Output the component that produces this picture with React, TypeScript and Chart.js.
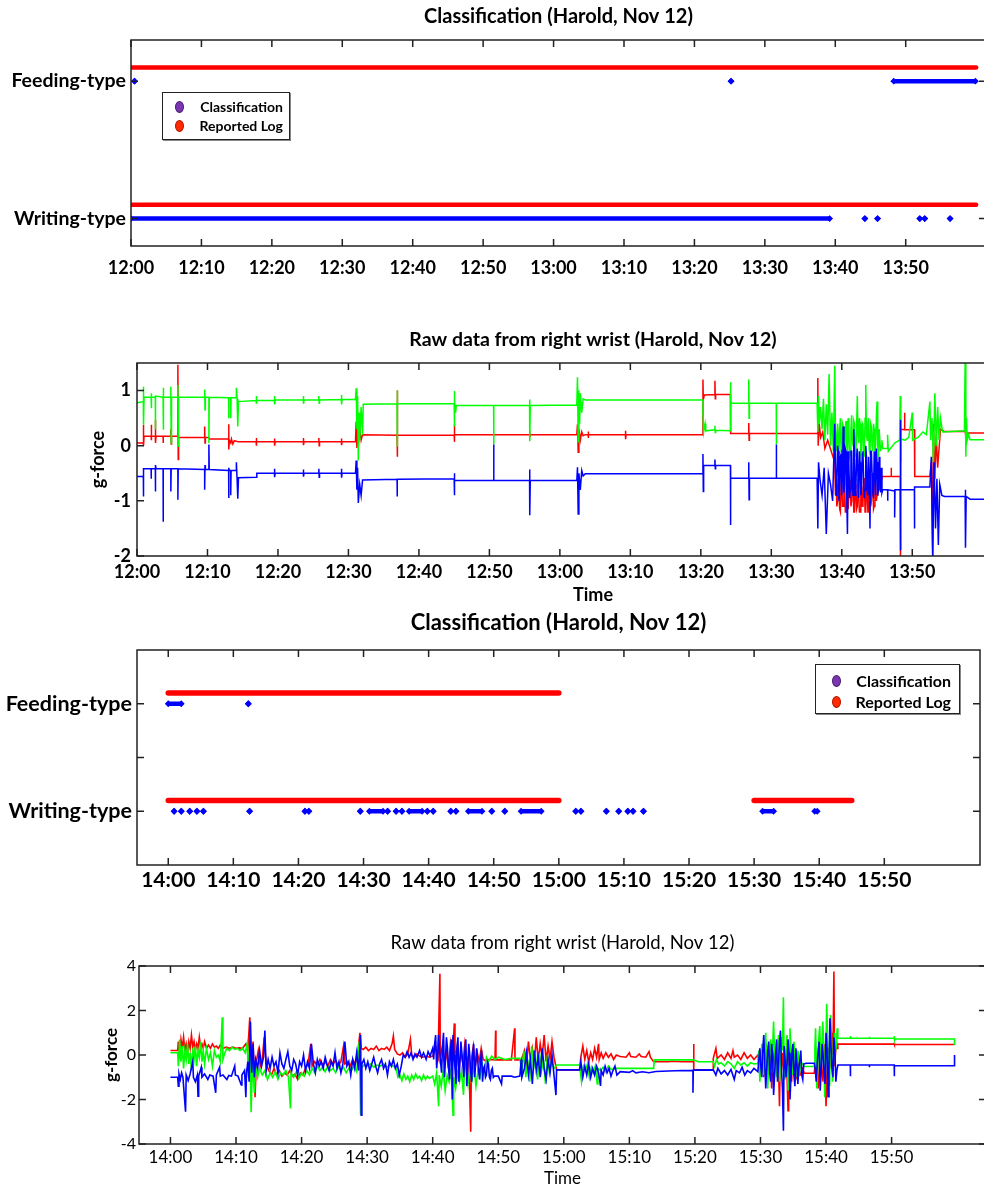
import React, { useEffect, useRef } from 'react';
import { Chart, registerables } from 'chart.js';

Chart.register(...registerables);

const FONT = "Lato, 'Open Sans', 'DejaVu Sans', sans-serif";

// ---------- ticks ----------
const tenMinuteTicks = [0, 10, 20, 30, 40, 50, 60, 70, 80, 90, 100, 110];
const classTicksTop = [1, 2];
const classTicksBottom = [1, 1.5, 2];
const classLabels: Record<string, string> = { '1': 'Writing-type', '2': 'Feeding-type' };
const wristTicksTop = [-2, -1, 0, 1];
const wristTicksBottom = [-4, -2, 0, 2, 4];

// ---------- panel 1: classification 12:00-14:00 (minutes after 12:00) ----------
const logFeedingA = [[0, 120]];
const logWritingA = [[0, 120]];
const clsFeedingA = [[0.5, 0.5], [85.2, 85.2], [108.3, 119.9]];
const clsWritingA = [[0, 99.2], [104.2, 104.2], [106, 106], [112, 112], [112.7, 112.7], [116.3, 116.3]];

// ---------- panel 3: classification 14:00-16:00 (minutes after 14:00) ----------
const logFeedingB = [[0, 60]];
const logWritingB = [[0, 60], [90, 105]];
const clsFeedingB = [[0, 2], [12.3, 12.3]];
const clsWritingB = [
  [0.9, 0.9], [2, 2], [3.3, 3.3], [4.4, 4.4], [5.4, 5.4], [12.5, 12.5], [21, 21], [21.6, 21.6],
  [29.5, 29.5], [30.9, 33], [33.7, 33.7], [35, 35], [35.9, 35.9], [37, 39], [39.8, 39.8], [40.7, 40.7],
  [43.4, 43.4], [44.2, 44.2], [46.1, 48.2], [49.7, 49.7], [51.7, 51.7], [54.2, 57.3], [62.6, 62.6],
  [63.4, 63.4], [67.3, 67.3], [69.2, 69.2], [70.6, 70.6], [71.4, 71.4], [73, 73], [91.3, 93], [99.3, 99.7],
];

// ---------- panel 2: raw wrist data 12:00-14:00 ----------
const wristBlueA = [
  [0,-0.56],[0.9,-0.56],[0.9,-0.92],[0.95,-0.42],[2,-0.42],[2,-0.6],[2.05,-0.42],[2.6,-0.42],[2.6,-0.83],[2.65,-0.35],[2.7,-0.42],
  [3.7,-0.42],[3.7,-1.38],[3.75,-0.42],[4.8,-0.42],[4.8,-0.83],[4.85,-0.42],[5.8,-0.42],[5.8,-0.98],[5.85,-0.42],[9.6,-0.43],
  [9.6,-0.8],[9.65,-0.35],[9.7,-0.43],[10.2,-0.43],[10.2,0.02],[10.25,-0.43],[13,-0.45],[13,-0.95],[13.05,-0.4],[13.1,-0.45],
  [13.3,-0.45],[13.3,-0.9],[13.35,-0.45],[14.1,-0.45],[14.1,-0.3],[14.2,-0.6],[14.3,-0.96],[14.4,-0.58],[16.9,-0.57],[17,-0.5],
  [19.5,-0.5],[19.5,-0.42],[19.55,-0.57],[19.6,-0.5],[23.6,-0.5],[23.6,-0.43],[23.65,-0.56],[23.7,-0.5],[25.8,-0.5],[25.8,-0.42],
  [25.85,-0.57],[25.9,-0.5],[29,-0.5],[29,-0.42],[29.05,-0.58],[29.1,-0.5],[31,-0.5],[31.1,-0.27],[31.2,-0.8],[31.3,-0.4],
  [31.4,-1.04],[31.6,-0.7],[31.8,-0.9],[32,-0.62],[36.9,-0.61],[36.9,-0.92],[36.95,-0.61],[45,-0.6],[45,-0.9],[45.05,-0.5],
  [45.1,-0.63],[50.6,-0.63],[50.6,0.02],[50.65,-0.63],[55.7,-0.63],[55.7,-0.43],[55.75,-1.26],[55.8,-0.63],[62.4,-0.63],
  [62.5,-0.39],[62.6,-1.24],[62.7,-0.5],[62.9,-0.8],[63.1,-0.45],[63.3,-0.55],[63.6,-0.51],[80.3,-0.51],[80.3,-0.15],
  [80.35,-0.83],[80.4,-0.36],[82,-0.36],[82,-0.25],[82.05,-0.42],[82.1,-0.36],[84.2,-0.36],[84.2,-1.44],[84.25,-0.59],
  [86.8,-0.59],[86.8,-0.3],[86.85,-0.98],[86.9,-0.59],[90.7,-0.59],[90.7,0.02],[90.75,-0.59],[96.5,-0.59],[96.6,-1.5],
  [96.7,-0.3],[96.9,-0.6],[97.2,-0.9],[97.5,-0.4],[97.8,-1.6],[98.1,-0.5],[98.4,-0.7],[98.7,-1.0],
  [99,0.4],[99.1,-0.4],[99.2,-0.9],[99.3,-0.6],[99.4,0.0],[99.5,-0.1],[99.6,-1.0],[99.7,-0.8],[99.8,-0.2],[99.9,-0.15],
  [100,-0.9],[100.1,-0.5],[100.2,0.35],[100.3,-0.85],[100.4,-0.7],[100.5,-0.05],[100.6,-0.1],[100.7,-0.9],[100.8,-1.6],[100.9,-0.1],
  [101,-0.3],[101.1,-0.95],[101.2,-0.8],[101.3,-0.1],[101.4,-0.1],[101.5,-0.7],[101.6,-0.9],[101.7,0.3],[101.8,-0.2],[101.9,-0.9],
  [102,-0.8],[102.1,-0.2],[102.2,-0.05],[102.3,-0.6],[102.4,-0.95],[102.5,-0.1],[102.6,-0.3],[102.7,-0.9],[102.8,-0.8],[102.9,-0.15],
  [103,-0.1],[103.1,-0.6],[103.2,-0.95],[103.3,-0.8],[103.4,0.0],[103.5,-0.2],[103.6,-0.8],[103.7,-0.9],[103.8,-0.2],[103.9,-0.6],
  [104,-1.5],[104.1,-0.1],[104.2,-0.1],[104.3,-0.5],[104.4,-0.85],[104.5,-0.95],[104.6,-0.1],[104.7,-0.3],[104.8,-0.9],[104.9,-0.05],
  [105,-0.3],[105.1,-0.9],[105.2,-0.8],[105.3,-0.2],[105.4,-0.5],[105.5,-0.85],[105.6,-0.4],[105.7,-0.85],[105.8,-0.8],
  [106.5,-0.8],[106.5,-1.0],[106.55,-0.8],[107.5,-0.82],[107.5,-1.3],[107.55,-0.8],[108.3,-0.8],
  [108.3,0.47],[108.35,-1.9],[108.4,-0.8],[110.3,-0.8],[110.3,-1.5],[110.35,-0.75],[112.5,-0.75],[112.7,-0.2],[112.9,-2.0],
  [113.1,-0.3],[113.3,-1.5],[113.5,-0.6],[113.7,-1.8],[113.9,-0.7],[114.2,-0.9],[114.6,-0.92],[117.5,-0.92],[117.5,-0.8],
  [117.6,-1.85],[117.65,-0.92],[118.2,-0.97],[129,-0.97],
];
const wristGreenA = [
  [0,0.78],[0.9,0.8],[0.9,1.07],[0.95,0.38],[1,0.88],[2,0.88],[2,0.68],[2.05,0.95],[2.1,0.88],[2.6,0.88],[2.6,0.3],[2.65,0.9],
  [3.7,0.88],[3.7,1.05],[3.75,0.29],[3.8,0.88],[4.8,0.88],[4.8,1.07],[4.85,0.05],[4.9,0.88],[5.8,0.88],[5.8,1.1],[5.85,-0.01],
  [5.9,0.88],[9.6,0.88],[9.6,1.02],[9.65,0.65],[9.7,0.88],[10.2,0.88],[10.2,0.05],[10.25,0.88],[13,0.87],[13,0.5],[13.05,0.87],
  [13.3,0.87],[13.3,0.5],[13.35,0.87],[14.1,0.87],[14.1,1.05],[14.2,0.85],[14.3,0.35],[14.4,0.8],[16.9,0.82],[16.9,0.9],
  [16.95,0.76],[17,0.82],[19.5,0.82],[19.5,0.9],[19.55,0.75],[19.6,0.83],[23.6,0.83],[23.6,0.9],[23.65,0.76],[23.7,0.83],
  [25.8,0.83],[25.8,0.9],[25.85,0.77],[25.9,0.83],[29,0.84],[29,0.92],[29.05,0.75],[29.1,0.84],[31,0.84],[31.1,1.04],[31.2,0.3],
  [31.3,0.9],[31.4,-0.27],[31.5,0.6],[31.6,0.1],[31.8,0.7],[32,0.2],[32.1,0.75],[36.9,0.76],[36.9,1.0],[36.95,-0.02],[37,0.76],
  [45,0.76],[45,0.99],[45.05,0.35],[45.1,0.8],[45.2,0.6],[45.3,0.73],[50.6,0.73],[50.6,0.02],[50.65,0.73],[55.7,0.73],
  [55.7,0.84],[55.75,0.08],[55.8,0.73],[62.4,0.74],[62.5,1.24],[62.6,0.07],[62.7,1.0],[62.8,0.4],[62.9,0.95],[63.1,0.6],
  [63.3,0.85],[63.6,0.83],[80.3,0.83],[80.3,0.6],[80.4,0.25],[80.6,0.4],[80.7,0.27],[82,0.29],[82,0.36],[82.05,0.24],[82.1,0.28],
  [84.2,0.27],[84.2,1.15],[84.25,0.77],[86.8,0.77],[86.8,1.2],[86.85,0.5],[86.9,0.77],[90.7,0.77],[90.7,0.02],[90.75,0.77],
  [96.5,0.77],[96.6,0.25],[96.7,0.9],[96.8,0.4],[97,0.7],[97.2,0.3],[97.4,0.85],[97.6,0.1],[97.8,0.75],[98,0.2],[98.2,1.3],
  [98.4,0.0],[98.6,0.6],[98.8,-0.1],
  [99,1.45],[99.1,0.3],[99.2,0.1],[99.3,-0.1],[99.4,0.4],[99.5,0.2],[99.6,-0.15],[99.7,0.3],[99.8,0.5],[99.9,-0.1],
  [100,0.0],[100.1,0.4],[100.2,0.35],[100.3,-0.2],[100.4,-0.2],[100.5,0.3],[100.6,0.45],[100.7,0.0],[100.8,-0.1],[100.9,0.5],
  [101,0.3],[101.1,-0.2],[101.2,-0.15],[101.3,0.3],[101.4,0.55],[101.5,0.1],[101.6,0.0],[101.7,0.45],[101.8,0.4],[101.9,-0.1],
  [102,-0.2],[102.1,0.3],[102.2,0.9],[102.3,0.2],[102.4,0.05],[102.5,0.5],[102.6,0.4],[102.7,-0.15],[102.8,-0.1],[102.9,0.4],
  [103,0.35],[103.1,-0.1],[103.2,-0.2],[103.3,0.5],[103.4,1.1],[103.5,0.2],[103.6,0.1],[103.7,0.4],[103.8,0.5],[103.9,-0.1],
  [104,-0.15],[104.1,0.4],[104.2,0.35],[104.3,0.0],[104.4,-0.1],[104.5,0.4],[104.6,0.3],[104.7,-0.1],[104.8,0.0],[104.9,0.5],
  [105,0.8],[105.1,0.0],[105.2,-0.2],[105.3,0.3],[105.4,0.3],[105.5,-0.1],[105.6,0.0],[105.7,0.1],[105.8,-0.05],
  [106.5,-0.05],[106.5,0.2],[106.6,-0.1],
  [107.5,0.05],[108.2,0.1],[108.3,0.9],[108.35,-0.3],[108.4,0.12],[109,0.1],[109.5,0.15],[110,0.6],[110.05,0.1],[110.8,0.15],
  [111.5,0.25],[112,0.2],[112.5,0.8],[112.6,0.1],[112.8,0.5],[113,-0.3],[113.2,0.95],[113.4,0.0],[113.6,0.7],[113.8,0.1],
  [114,0.5],[114.3,0.25],[117.4,0.27],[117.5,1.5],[117.6,-0.2],[117.7,0.5],[117.8,0.1],[118,0.2],[118.2,0.11],[129,0.11],
];
const wristRedA = [
  [0,0.05],[0.9,0.05],[0.9,0.38],[0.95,0.0],[1,0.17],[2,0.17],[2,0.38],[2.05,0.1],[2.1,0.17],[2.6,0.17],[2.6,0.47],[2.65,0.05],
  [2.7,0.17],[3.7,0.17],[3.7,0.05],[3.75,0.17],[4.8,0.17],[4.8,0.3],[4.85,0.03],[4.9,0.17],[5.8,0.17],[5.8,1.47],[5.85,-0.25],
  [5.9,0.15],[9.6,0.15],[9.6,0.35],[9.65,0.05],[9.7,0.15],[10.2,0.15],[10.3,0.12],[13,0.12],[13,0.39],[13.05,-0.07],[13.1,0.1],
  [13.3,0.05],[13.4,0.12],[13.6,0.03],[13.8,0.09],[14.4,0.07],[16.9,0.07],[16.9,0.14],[16.95,0.0],[17,0.07],[19.5,0.07],
  [19.5,0.13],[19.55,0.0],[19.6,0.07],[23.6,0.07],[23.6,0.14],[23.65,0.01],[23.7,0.07],[25.8,0.07],[25.8,0.14],[25.85,0.0],
  [25.9,0.07],[29,0.07],[29,0.13],[29.05,0.01],[29.1,0.07],[31,0.07],[31.1,0.44],[31.2,-0.04],[31.3,0.35],[31.4,0.0],[31.6,0.3],
  [31.8,0.1],[32,0.2],[36.9,0.19],[36.9,1.0],[36.95,-0.2],[37,0.19],[45,0.19],[45,0.39],[45.05,0.07],[45.1,0.2],[55.7,0.2],
  [55.7,0.27],[55.75,0.15],[55.8,0.2],[62.4,0.2],[62.5,0.39],[62.6,-0.12],[62.7,0.3],[62.9,0.1],[63.1,0.25],[63.3,0.18],
  [63.6,0.2],[64,0.2],[64,0.26],[64.05,0.14],[64.1,0.2],[69.3,0.2],[69.3,0.27],[69.35,0.12],[69.4,0.2],[80.3,0.2],[80.3,1.2],
  [80.35,0.84],[80.5,0.92],[82,0.93],[82,1.18],[82.05,0.85],[82.1,0.93],[84.2,0.93],[84.2,0.35],[84.25,0.22],[86.8,0.22],
  [86.8,0.41],[86.85,0.1],[86.9,0.22],[96.5,0.22],[96.6,1.23],[96.65,0.0],[96.8,0.4],[97,0.15],[97.3,0.25],[97.6,-0.05],
  [98,0.1],[98.5,-0.1],
  [99,-0.3],[99.1,-0.9],[99.2,-0.7],[99.3,-1.1],[99.4,-1.0],[99.5,-0.6],[99.6,-0.6],[99.7,-1.15],[99.8,-1.2],[99.9,-0.65],
  [100,-0.7],[100.1,-1.1],[100.2,-1.1],[100.3,-0.6],[100.4,-0.6],[100.5,-1.2],[100.6,-1.2],[100.7,-0.7],[100.8,-0.8],[100.9,-1.15],
  [101,-1.15],[101.1,-0.6],[101.2,-0.65],[101.3,-1.1],[101.4,-1.0],[101.5,-0.6],[101.6,-0.7],[101.7,-1.2],[101.8,-1.2],[101.9,-0.7],
  [102,-0.8],[102.1,-1.15],[102.2,-1.1],[102.3,-0.6],[102.4,-0.6],[102.5,-1.2],[102.6,-1.2],[102.7,-0.7],[102.8,-0.75],[102.9,-1.1],
  [103,-1.05],[103.1,-0.6],[103.2,-0.6],[103.3,-1.2],[103.4,-1.15],[103.5,-0.7],[103.6,-0.8],[103.7,-1.2],[103.8,-1.2],[103.9,-0.65],
  [104,-0.7],[104.1,-1.1],[104.2,-1.0],[104.3,-0.6],[104.4,-0.65],[104.5,-1.15],[104.6,-1.1],[104.7,-0.65],[104.8,-0.7],[104.9,-1.0],
  [105,-0.9],[105.1,-0.6],[105.2,-0.6],[105.3,-0.8],[105.4,-0.7],[105.5,-0.6],[105.6,-0.6],[105.7,-0.58],[105.8,-0.56],
  [107,-0.56],[107,-0.4],[107.05,-0.56],[108.3,-0.56],[108.3,-2.0],[108.35,0.3],[108.9,0.29],[108.9,0.6],[108.95,0.29],[110.3,0.29],
  [110.35,-0.56],[112.5,-0.56],[112.7,-0.3],[112.9,-2.0],[113,0.4],[113.2,-0.6],[113.4,0.2],[113.6,-0.4],[114,0.3],[114.5,0.26],
  [117.4,0.26],[117.5,0.3],[117.6,0.15],[117.8,0.23],[129,0.23],
];

// ---------- panel 4: raw wrist data 14:00-16:00 ----------
const wristBlueB = [
  [0,-1],[1.1,-1],[1.2,-1.4],[1.3,-0.85],[1.5,-1.1],[1.7,-0.8],[1.9,-1.0],[2.3,-2.55],[2.4,-0.9],[2.7,-1.15],[3,-0.85],[3.4,-0.3],
  [3.5,-1.0],[3.8,-1.2],[4.1,-0.9],[4.2,-1.85],[4.3,-0.95],[4.7,-0.55],[4.8,-1.0],[5.2,-0.85],[5.7,-1.1],[6,-0.9],[6.5,-0.95],
  [6.9,-1.7],[7,-0.9],[7.5,-0.55],[7.6,-0.95],[8,-0.9],[8.6,-1.1],[8.9,-0.92],[9.3,-0.95],[9.8,-0.5],[9.9,-0.9],[10.3,-0.95],
  [10.8,-1.35],[10.9,-0.9],[11.3,-0.7],[11.5,-1.9],[11.6,-0.8],[11.8,-0.3],[12,-1.2],[12.2,1.5],[12.4,-0.8],[12.6,0.5],[12.8,-1.0],
  [13,-0.2],[13.3,-0.6],[13.6,0.2],[13.9,-0.5],[14.2,-0.1],[14.4,1.1],[14.6,-0.7],[14.9,-0.2],[15.2,-0.6],[15.5,-0.1],[15.8,-0.5],
  [16.1,-0.3],[16.4,-0.8],[16.7,0.1],[17,-0.4],[17.3,-0.6],[17.6,-0.2],[17.9,0.15],[18.2,-0.5],[18.5,-0.7],[18.8,-0.2],[19.1,-0.4],
  [19.4,-0.9],[19.7,-0.3],[20,-0.5],[20.3,0.0],[20.6,-0.7],[20.9,-0.3],[21.2,-0.6],[21.5,0.5],[21.8,-0.4],[22.1,-0.8],[22.4,-0.2],
  [22.7,-0.5],[23,-0.3],[23.3,-0.6],[23.6,-0.1],[23.9,-0.45],[24.2,-0.7],[24.5,-0.3],[24.8,-0.5],[25.1,0.1],[25.4,-0.6],[25.7,-0.3],
  [26,-0.8],[26.3,-0.4],[26.6,0.6],[26.9,-0.5],[27.2,-0.3],[27.5,-0.9],[27.8,-0.2],[28.1,-0.6],[28.4,0.1],[28.7,-0.7],[29,0.9],
  [29.1,-2.7],[29.2,-0.4],[29.5,-0.2],[29.8,-0.6],[30.1,-0.3],[30.4,-0.7],[30.7,-0.4],[31,-0.1],[31.3,-0.5],[31.6,-0.8],[31.9,-0.4],
  [32.2,-0.2],[32.5,-0.6],[32.8,-0.4],[33.1,-0.9],[33.4,-0.3],[33.7,-0.5],[34,-0.2],[34.3,-0.6],[34.6,-0.4],[34.9,-0.9],[35.2,-0.5],
  [35.5,0.0],[35.8,-0.1],[36.1,0.15],[36.4,-0.1],[36.7,0.1],[37,-0.2],[37.3,0.05],[37.6,-0.1],[38,0.2],[38.3,-0.1],[38.6,0.1],
  [39,-0.2],[39.3,0.15],[39.6,-0.05],
  [40,0.3],[40.15,-0.2],[40.3,0.5],[40.45,0.9],[40.6,-0.6],[40.75,-0.1],[40.9,0.9],[41.05,0.2],[41.2,-0.3],[41.35,-0.8],[41.5,0.4],
  [41.65,1.0],[41.8,-1.0],[41.95,-0.2],[42.1,0.8],[42.25,0.3],[42.4,-0.5],[42.55,-1.1],[42.7,0.2],[42.85,0.7],[43,-2.0],[43.1,0.9],
  [43.25,0.0],[43.4,-0.6],[43.55,-1.3],[43.7,0.3],[43.85,0.8],[44,-1.2],[44.15,-0.3],[44.3,0.6],[44.45,0.1],[44.6,-0.4],[44.75,-1.0],
  [44.9,0.1],[45.05,0.7],[45.2,-1.4],[45.35,-0.5],[45.5,0.5],[45.65,0.0],[45.8,-0.8],[45.95,-1.2],[46.1,0.0],[46.25,0.5],[46.4,-1.0],
  [46.55,-0.4],[46.7,0.3],[46.85,-0.2],[47,-0.7],[47.15,-1.1],[47.3,-0.2],[47.45,0.2],[47.6,-1.2],[47.75,-0.6],[47.9,-0.5],
  [48.05,-1.0],[48.2,-0.9],[48.35,-0.3],[48.5,-0.4],[48.65,-1.0],[48.8,-1.1],[48.95,-0.7],[49.1,-0.6],[49.25,-1.0],[49.4,-0.95],
  [50,-0.95],[50.5,-1.3],[50.6,-0.95],[52,-0.95],[52.5,-1.0],[53.3,-0.95],[53.5,-0.2],
  [53.6,-1.0],[54,-0.6],[54.3,0.1],[54.6,-0.9],[54.9,-0.2],[55.2,-1.3],[55.5,0.2],[55.8,-0.7],[56.1,-0.1],[56.4,-1.0],[56.7,0.3],
  [57,-0.6],[57.3,-1.1],[57.6,-0.2],[57.9,-0.8],[58.2,0.0],[58.5,-0.9],[58.8,-1.8],[58.9,-0.67],[62.4,-0.67],[62.6,-0.3],
  [62.9,-1.0],[63.2,-0.5],[63.5,-0.9],[63.8,-0.4],[64.1,-1.0],[64.4,-0.6],[64.7,-0.9],[65,-0.5],[65.3,-0.8],[65.6,-1.39],
  [65.7,-0.7],[66,-0.9],[66.3,-0.5],[66.6,-0.8],[66.9,-0.6],[67.2,-0.95],[67.5,-0.7],[67.8,-0.5],[68.1,-0.9],[68.6,-0.75],
  [70,-0.78],[70.5,-0.7],[71,-0.8],[72,-0.75],[73,-0.8],[74,-0.74],[76,-0.72],[78,-0.7],[79.7,-0.7],[79.7,-1.7],[79.75,-0.68],
  [82.8,-0.67],[83.2,-0.9],[83.5,-0.6],[84,-0.85],[84.5,-0.7],[85,-0.9],[85.5,-0.65],[86,-1.1],[86.3,-0.7],[86.8,-0.8],
  [87.2,-0.55],[87.6,-0.9],[88,-0.7],[88.5,-0.8],[89,-0.6],[89.6,-0.75],
  [89.75,-0.2],[89.9,0.3],[90.05,-0.5],[90.2,-1.0],[90.35,0.2],[90.5,0.9],[90.65,-0.3],[90.8,-1.5],[90.95,-0.6],[91.1,0.2],
  [91.25,0.6],[91.4,-0.8],[91.55,-1.2],[91.7,0.5],[91.85,0.0],[92,-1.8],[92.15,-0.9],[92.3,0.0],[92.45,0.7],[92.6,-1.2],
  [92.75,-0.4],[92.9,0.6],[93.05,1.1],[93.2,-0.6],[93.35,-1.5],[93.5,-3.4],[93.6,0.4],[93.75,-0.2],[93.9,-1.0],[94.05,-0.4],
  [94.2,0.7],[94.35,0.1],[94.5,-2.0],[94.65,-1.0],[94.8,0.1],[94.95,0.5],[95.1,-0.9],[95.25,-1.4],[95.4,0.3],[95.55,-0.3],
  [95.7,-1.3],[95.85,-0.6],[96,-0.2],[96.15,0.2],[96.3,-0.9],[96.45,-1.1],[96.6,-0.4],[97,-0.37],[98.2,-0.37],
  [98.35,-0.6],[98.5,-1.2],[98.65,-0.4],[98.8,0.2],[98.95,0.6],[99.1,-1.6],[99.25,-0.8],[99.4,0.5],[99.55,0.0],[99.7,-0.9],
  [99.85,-1.3],[100,1.0],[100.15,0.3],[100.3,-1.87],[100.45,-0.5],[100.6,1.65],[100.75,0.4],[100.9,-0.6],[101.05,-1.0],
  [101.2,0.8],[101.35,0.2],[101.5,-1.2],[101.65,-0.7],[101.8,-0.45],
  [103.7,-0.45],[103.7,-0.95],[103.75,-0.45],[106.6,-0.45],[106.6,-0.55],[106.65,-0.45],[110.4,-0.45],[110.4,-0.95],
  [110.45,-0.48],[119.6,-0.48],[119.6,0.0],
];
const wristGreenB = [
  [0,0.1],[1.1,0.1],[1.2,-0.5],[1.4,0.7],[1.6,-0.3],[1.8,0.4],[2,-0.6],[2.2,0.2],[2.4,-0.2],[2.6,0.5],[2.8,-0.4],[3,0.1],[3.2,-0.7],
  [3.4,0.3],[3.6,-0.2],[3.8,0.4],[4,-0.5],[4.2,0.2],[4.4,-0.1],[4.6,0.6],[4.8,-0.3],[5,0.2],[5.2,-0.4],[5.5,0.3],[5.8,-0.2],
  [6.1,0.1],[6.4,-0.5],[6.7,0.2],[7,-0.1],[7.3,0.0],[7.6,-0.3],[7.9,1.7],[8,-0.2],[8.3,0.1],[8.6,0.3],[9,0.2],[9.4,0.35],
  [9.8,0.25],[10.2,0.3],[10.6,0.2],[11,0.3],[11.4,0.1],[11.7,0.5],[11.9,-1.0],[12.1,0.8],[12.3,-2.57],[12.5,-0.4],[12.8,-1.7],
  [13,-0.5],[13.3,-1.0],[13.6,-0.6],[14,-0.9],[14.4,-0.7],[14.8,-1.1],[15.2,-0.8],[15.6,-1.0],[16,-0.75],[16.4,-1.1],[16.8,-0.8],
  [17.2,-0.9],[17.6,-0.7],[18,-1.0],[18.3,-2.4],[18.4,-0.8],[18.8,-1.0],[19.2,-0.75],[19.6,-1.05],[20,-0.8],[20.4,-0.95],
  [20.8,-0.7],[21.2,-0.9],[21.6,-0.6],[22,-0.8],[22.4,-0.5],[22.8,-0.7],[23.2,-0.55],[23.6,-0.75],[24,-0.5],[24.4,-0.7],
  [24.8,-0.6],[25.2,-0.8],[25.6,-0.5],[26,-0.7],[26.4,-0.55],[26.8,-0.8],[27.2,-0.6],[27.6,-0.7],[28,-0.5],[28.4,-0.75],
  [28.8,0.6],[29,-2.7],[29.1,-0.6],[29.5,-0.45],[30,-0.5],[30.5,-0.4],[31,-0.55],[31.5,-0.45],[32,-0.5],[32.5,-0.4],[33,-0.55],
  [33.5,-0.45],[34,-0.5],[34.4,-0.6],[34.7,-1.0],[35,-0.9],[35.3,-1.15],[35.6,-0.85],[35.9,-1.1],[36.2,-0.95],[36.5,-1.2],
  [36.8,-0.9],[37.1,-1.1],[37.4,-0.85],[37.7,-1.05],[38,-0.95],[38.3,-1.15],[38.6,-0.9],[38.9,-1.1],[39.2,-0.95],[39.5,-1.05],
  [40,-0.95],[40.3,-1.3],[40.6,-0.8],[40.9,-2.3],[41,-0.9],[41.3,-1.4],[41.6,-0.7],[41.9,-1.6],[42.2,-0.9],[42.5,-1.2],[42.8,-0.6],
  [43.1,-2.7],[43.2,-1.0],[43.5,-1.5],[43.8,-0.8],[44.1,-1.2],[44.4,-0.7],[44.7,-1.8],[44.8,-0.9],[45.1,-0.3],[45.4,-1.3],
  [45.7,-0.6],[46,-1.1],[46.3,-0.5],[46.6,-1.4],[46.9,-0.7],[47.2,-1.0],[47.5,-0.4],[47.8,-0.8],[48.2,-0.1],[48.5,-0.3],[49,-0.05],
  [49.5,-0.2],[50,-0.1],[50.5,-0.15],[51,-0.2],[52,-0.15],[53.3,-0.15],[53.6,-0.8],[53.9,0.2],[54.2,-1.0],[54.5,-0.2],[54.8,-1.2],
  [55.1,0.4],[55.4,-0.6],[55.7,-0.1],[56,-1.1],[56.3,0.1],[56.6,-0.7],[56.9,-0.2],[57.2,-1.3],[57.5,0.0],[57.8,-0.8],[58.1,-0.3],
  [58.5,-0.6],[58.9,-0.45],[62.4,-0.45],[62.7,-1.2],[63,-0.5],[63.3,-0.7],[63.6,-0.4],[63.9,-1.0],[64.2,-0.55],[64.5,-0.8],
  [64.8,-0.5],[65.1,-1.3],[65.2,-0.6],[65.6,-0.7],[66,-0.55],[66.4,-0.75],[66.8,-0.5],[67.2,-0.65],[68,-0.6],[73.7,-0.6],
  [73.8,-0.22],[79.8,-0.22],[80.5,-0.3],[82.8,-0.3],[83,-0.5],[83.3,-0.2],[83.6,-0.4],[84,-0.35],[84.5,-0.5],[85,-0.3],
  [85.5,-0.4],[86,-0.6],[86.5,-0.3],[87,-0.45],[87.5,-0.35],[88,-0.5],[88.5,-0.35],[89,-0.4],[89.6,-0.38],
  [89.75,0.2],[89.9,-1.2],[90.05,-0.4],[90.2,0.5],[90.35,-0.2],[90.5,-0.9],[90.65,0.3],[90.8,1.0],[90.95,-0.5],[91.1,-1.5],
  [91.25,-0.3],[91.4,0.2],[91.55,0.7],[91.7,-0.8],[91.85,0.3],[92,1.5],[92.15,0.0],[92.3,-0.5],[92.45,-1.0],[92.6,0.4],
  [92.75,0.9],[92.9,-1.2],[93.05,-0.4],[93.2,0.8],[93.35,0.2],[93.5,2.6],[93.6,-0.6],[93.75,-1.1],[93.9,0.3],[94.05,0.9],
  [94.2,-1.6],[94.35,-0.5],[94.5,1.2],[94.65,0.2],[94.8,-0.4],[94.95,-0.9],[95.1,0.6],[95.25,0.0],[95.4,-1.0],[95.55,-0.3],
  [95.7,0.2],[95.85,-0.2],[96,-0.7],[96.2,-0.3],[96.4,-0.4],[96.7,-0.52],[98.2,-0.52],[98.3,0.3],[98.4,1.2],[98.5,0.0],
  [98.6,-1.5],[98.75,-0.4],[98.9,0.8],[99.05,1.3],[99.2,-0.8],[99.35,0.1],[99.5,1.5],[99.65,0.4],[99.8,-1.9],[99.95,-0.3],
  [100.1,2.3],[100.25,0.6],[100.4,-0.5],[100.55,-1.4],[100.7,1.8],[100.85,0.5],[101,-1.2],[101.15,-0.2],[101.3,1.0],[101.45,0.2],
  [101.6,0.4],[101.7,1.2],[101.8,0.75],
  [103.7,0.75],[103.7,0.85],[103.75,0.75],[106.6,0.75],[106.6,0.82],[106.65,0.75],[110.4,0.75],[110.4,0.85],[110.45,0.72],
  [119.6,0.72],[119.6,0.45],
];
const wristRedB = [
  [0,0.2],[1.1,0.2],[1.2,0.6],[1.4,0.1],[1.6,0.7],[1.8,0.3],[2,0.8],[2.2,0.2],[2.4,0.5],[2.6,0.1],[2.8,0.6],[3,0.3],[3.2,0.9],
  [3.4,0.35],[3.6,0.6],[3.8,0.2],[4,0.5],[4.2,0.3],[4.4,0.8],[4.6,0.35],[4.8,0.5],[5,0.3],[5.2,0.6],[5.5,0.3],[5.8,0.45],
  [6.1,0.3],[6.4,0.5],[6.7,0.35],[7,0.4],[7.3,0.3],[7.6,0.45],[8,0.3],[8.5,0.35],[9,0.3],[9.5,0.35],[10,0.3],[10.5,0.32],
  [11,0.3],[11.5,0.5],[11.8,0.2],[12.1,1.7],[12.3,-0.6],[12.6,0.6],[12.9,-1.9],[13.1,-0.3],[13.4,0.2],[13.7,-0.5],[14,-0.2],
  [14.3,0.8],[14.6,-0.4],[15,-0.7],[15.4,-0.9],[15.8,-0.6],[16.2,-0.9],[16.6,-0.7],[17,-0.95],[17.4,-0.8],[17.8,-0.9],[18.2,-0.7],
  [18.6,-0.95],[19,-0.85],[19.4,-1.1],[19.8,-0.8],[20.2,-0.9],[20.6,-0.6],[21,-0.4],[21.4,0.5],[21.6,-0.5],[22,-0.3],[22.4,-0.5],
  [22.8,-0.2],[23.2,-0.45],[23.6,-0.3],[24,-0.5],[24.4,-0.2],[24.8,-0.4],[25.2,-0.25],[25.6,-0.45],[26,-0.3],[26.4,0.4],
  [26.6,-0.4],[27,-0.3],[27.4,-0.5],[27.8,-0.2],[28.2,-0.4],[28.6,0.2],[28.9,1.0],[29.1,0.3],[29.4,0.25],[29.8,0.35],[30.2,0.2],
  [30.6,0.3],[31,0.25],[31.4,0.4],[31.8,0.2],[32.2,0.3],[32.6,0.25],[33,0.35],[33.4,0.2],[33.8,0.5],[34,0.85],[34.2,0.25],
  [34.6,0.05],[35,0.0],[35.4,0.1],[35.8,-0.1],[36.2,0.05],[36.6,0.7],[36.8,0.0],[37.2,-0.1],[37.6,0.05],[38,-0.05],[38.5,-0.1],
  [39,-0.05],[39.5,-0.1],[40,-0.05],[40.5,0.3],[40.8,-0.3],[41.1,3.65],[41.15,-0.1],[41.5,0.4],[41.8,-0.5],[42.1,0.2],[42.4,-0.6],
  [42.7,0.5],[43,-0.2],[43.3,1.42],[43.4,-0.4],[43.7,0.3],[44,-0.6],[44.3,0.1],[44.6,-0.4],[44.9,0.5],[45.2,-0.3],[45.5,0.0],
  [45.8,-3.45],[45.9,-0.2],[46.2,0.4],[46.5,-0.5],[46.8,0.1],[47.1,-0.3],[47.4,0.3],[47.7,-0.2],[48,-0.25],[48.4,-0.2],
  [49.5,-0.22],[49.6,1.1],[49.65,-0.22],[52,-0.22],[52.5,1.2],[52.55,-0.22],[53.5,-0.22],[54,0.2],[54.3,-0.5],[54.6,0.6],
  [54.9,-0.2],[55.2,0.3],[55.5,-0.4],[55.8,0.8],[56.1,-0.3],[56.4,0.5],[56.7,-0.1],[57,0.9],[57.3,-0.3],[57.6,0.4],[57.9,-0.2],
  [58.2,0.6],[58.5,-0.1],[58.9,-0.67],[62.4,-0.67],[62.6,-0.1],[62.9,0.4],[63.2,-0.2],[63.5,0.2],[63.8,-0.3],[64.1,0.1],
  [64.4,-0.2],[64.7,0.3],[65,-0.1],[65.3,0.5],[65.4,-0.2],[65.7,0.1],[66,-0.15],[66.4,0.1],[66.8,-0.1],[67.2,0.05],[67.6,-0.2],
  [68,0.0],[68.6,-0.07],[69.5,-0.1],[70,0.1],[70.2,-0.07],[71,-0.1],[71.5,0.05],[71.8,-0.07],[72.5,-0.1],[73,0.15],[73.2,-0.1],
  [73.7,-0.3],[76,-0.3],[76.5,-0.28],[78,-0.3],[79.8,-0.3],[79.8,0.5],[79.85,-0.67],[82.8,-0.67],[82.8,-0.15],[83.2,0.3],
  [83.4,-0.15],[84,0.0],[84.5,-0.2],[85,0.1],[85.5,-0.15],[85.8,0.2],[86,-0.1],[86.5,0.0],[87,-0.2],[87.5,0.1],[88,-0.15],
  [88.5,0.0],[89,-0.2],[89.6,0.0],
  [89.75,-0.3],[89.9,-0.8],[90.05,0.1],[90.2,0.3],[90.35,-0.4],[90.5,-1.0],[90.65,-0.2],[90.8,0.5],[90.95,0.1],[91.1,-0.5],
  [91.25,-0.9],[91.4,0.2],[91.55,-0.2],[91.7,-1.5],[91.85,-0.6],[92,0.0],[92.15,0.3],[92.3,-0.7],[92.45,-0.3],[92.6,0.4],
  [92.75,-0.5],[92.9,-2.3],[93,-0.3],[93.15,-0.8],[93.3,0.1],[93.45,-0.4],[93.6,-1.0],[93.75,-0.5],[93.9,-0.2],[94.05,-0.9],
  [94.2,-2.5],[94.3,0.0],[94.45,-0.4],[94.6,-0.8],[94.75,-1.2],[94.9,0.2],[95.05,-0.3],[95.2,-0.5],[95.35,-1.1],[95.5,-1.0],
  [95.65,-0.5],[95.8,-0.4],[95.95,-0.9],[96.1,-0.9],[96.25,-0.7],[96.4,-0.6],[96.7,-0.82],[98.2,-0.82],[98.35,-0.4],[98.5,-0.3],
  [98.65,-0.9],[98.8,-1.5],[98.95,-0.6],[99.1,0.2],[99.25,-0.3],[99.4,-0.9],[99.55,-1.2],[99.7,0.5],[99.85,-0.5],[100,-2.3],
  [100.15,-0.8],[100.3,0.3],[100.45,-0.2],[100.6,-0.6],[100.75,0.2],[100.9,1.0],[101.05,0.0],[101.2,3.75],[101.3,-0.5],
  [101.45,0.1],[101.6,0.6],[101.7,0.3],[101.8,0.49],
  [110.4,0.49],[110.4,0.55],[110.45,0.47],[119.6,0.47],
];

// ---------- helpers ----------
const clockLabel = (baseHour: number) => (v: number) => {
  const m = Math.round(v);
  return `${baseHour + Math.floor(m / 60)}:${String(m % 60).padStart(2, '0')}`;
};
const runsToPoints = (runs: number[][], level: number) => {
  const pts: any[] = [];
  runs.forEach(([a, b]) => pts.push({ x: a, y: level }, { x: b, y: level }, { x: b, y: null }));
  return pts;
};
const pairs = (arr: number[][]) => arr.map(([x, y]) => ({ x, y }));

const framePlugin = {
  id: 'frame',
  afterDatasetsDraw(chart: any, _args: any, opts: any) {
    const { ctx, chartArea: a, scales } = chart;
    const len = opts.tick ?? 7;
    ctx.save();
    ctx.strokeStyle = opts.color ?? '#222';
    ctx.lineWidth = opts.width ?? 1.5;
    ctx.beginPath();
    scales.x.ticks.forEach((t: any) => {
      const p = scales.x.getPixelForValue(t.value);
      ctx.moveTo(p, a.top); ctx.lineTo(p, a.top + len);
      ctx.moveTo(p, a.bottom); ctx.lineTo(p, a.bottom - len);
    });
    scales.y.ticks.forEach((t: any) => {
      const p = scales.y.getPixelForValue(t.value);
      ctx.moveTo(a.left, p); ctx.lineTo(a.left + len, p);
      ctx.moveTo(a.right, p); ctx.lineTo(a.right - len, p);
    });
    ctx.stroke();
    ctx.strokeRect(a.left, a.top, a.right - a.left, a.bottom - a.top);
    ctx.restore();
  },
};

type Geo = {
  W: number; H: number; left: number; right: number; bottom: number;
  titleSize: number; titleWeight: string; titlePadTop: number; titlePadBottom: number;
};

function classConfig(g: Geo, o: any) {
  const logDs = (runs: number[][], level: number) => ({
    label: 'Reported Log', data: runsToPoints(runs, level), borderColor: '#ff0000', borderWidth: o.logWidth,
    borderCapStyle: 'round', pointRadius: 0, spanGaps: false, order: 2,
  });
  const clsDs = (runs: number[][], level: number) => ({
    label: 'Classification', data: runsToPoints(runs, level), borderColor: '#0000ff', borderWidth: 4.5,
    borderCapStyle: 'butt', pointStyle: 'rectRot', pointRadius: 3.4, pointBackgroundColor: '#0000ff',
    pointBorderWidth: 0, spanGaps: false, order: 1,
  });
  return {
    type: 'line',
    data: { datasets: [clsDs(o.clsW, 1), clsDs(o.clsF, 2), logDs(o.logW, 1.1), logDs(o.logF, 2.1)] },
    options: {
      animation: false, responsive: false, events: [],
      layout: { padding: { left: 0, right: g.W - g.right, top: 0, bottom: 0 } },
      plugins: {
        legend: { display: false }, tooltip: { enabled: false },
        title: {
          display: true, text: o.title, fullSize: false, color: '#000',
          font: { family: FONT, size: g.titleSize, weight: g.titleWeight },
          padding: { top: g.titlePadTop, bottom: g.titlePadBottom },
        },
        frame: { tick: 7, color: '#222', width: 1.5 },
      },
      scales: {
        x: {
          type: 'linear', min: o.xMin, max: o.xMax,
          afterBuildTicks: (s: any) => { s.ticks = tenMinuteTicks.map((v) => ({ value: v })); },
          afterFit: (s: any) => { s.height = g.H - g.bottom; },
          grid: { display: false, drawTicks: false }, border: { display: false },
          ticks: {
            autoSkip: false, maxRotation: 0, padding: o.xPad, color: '#000',
            font: { family: FONT, size: o.xFont, weight: 'bold' }, callback: clockLabel(o.baseHour),
          },
        },
        y: {
          type: 'linear', min: o.yMin, max: o.yMax,
          afterBuildTicks: (s: any) => { s.ticks = o.yTicks.map((v: number) => ({ value: v })); },
          afterFit: (s: any) => { s.width = g.left; },
          grid: { display: false, drawTicks: false }, border: { display: false },
          ticks: {
            autoSkip: false, padding: o.yPad, color: '#000',
            font: { family: FONT, size: o.yFont, weight: 'bold' },
            callback: (v: number) => classLabels[String(v)] ?? '',
          },
        },
      },
    },
    plugins: [framePlugin],
  };
}

function wristConfig(g: Geo, o: any) {
  const ds = (data: number[][], color: string, label: string) => ({
    label, data: pairs(data), borderColor: color, borderWidth: o.lineWidth, pointRadius: 0, tension: 0,
  });
  return {
    type: 'line',
    data: {
      datasets: [ds(o.blue, '#0000ff', 'z'), ds(o.green, '#00ff00', 'y'), ds(o.red, '#ff0000', 'x')],
    },
    options: {
      animation: false, responsive: false, events: [],
      layout: { padding: { left: 0, right: g.W - g.right, top: 0, bottom: 0 } },
      plugins: {
        legend: { display: false }, tooltip: { enabled: false },
        title: {
          display: true, text: 'Raw data from right wrist (Harold, Nov 12)', fullSize: false, color: '#000',
          font: { family: FONT, size: g.titleSize, weight: g.titleWeight },
          padding: { top: g.titlePadTop, bottom: g.titlePadBottom },
        },
        frame: { tick: 7, color: '#222', width: 1.5 },
      },
      scales: {
        x: {
          type: 'linear', min: o.xMin, max: o.xMax,
          afterBuildTicks: (s: any) => { s.ticks = tenMinuteTicks.map((v) => ({ value: v })); },
          afterFit: (s: any) => { s.height = g.H - g.bottom; },
          grid: { display: false, drawTicks: false }, border: { display: false },
          ticks: {
            autoSkip: false, maxRotation: 0, padding: o.xPad, color: '#000',
            font: { family: FONT, size: o.xFont, weight: o.tickWeight }, callback: clockLabel(o.baseHour),
          },
          title: {
            display: true, text: 'Time', color: '#000',
            font: { family: FONT, size: o.axisTitleSize, weight: o.timeWeight },
            padding: { top: 0, bottom: o.timePadBottom },
          },
        },
        y: {
          type: 'linear', min: o.yMin, max: o.yMax,
          afterBuildTicks: (s: any) => { s.ticks = o.yTicks.map((v: number) => ({ value: v })); },
          afterFit: (s: any) => { s.width = g.left; },
          grid: { display: false, drawTicks: false }, border: { display: false },
          ticks: {
            autoSkip: false, padding: o.yPad, color: '#000',
            font: { family: FONT, size: o.yFont, weight: o.tickWeight },
          },
          title: {
            display: true, text: 'g-force', color: '#000',
            font: { family: FONT, size: o.axisTitleSize, weight: 'bold' },
            padding: { top: o.gPadTop, bottom: 0 },
          },
        },
      },
    },
    plugins: [framePlugin],
  };
}

function ChartCanvas({ top, W, H, make }: { top: number; W: number; H: number; make: () => any }) {
  const ref = useRef<HTMLCanvasElement>(null);
  useEffect(() => {
    const chart = new Chart(ref.current as HTMLCanvasElement, make());
    return () => chart.destroy();
  }, []);
  return (
    <canvas ref={ref} width={W} height={H}
      style={{ position: 'absolute', left: 0, top, width: W, height: H }} />
  );
}

function Legend({ left, top, width, height, fontSize, rows, markerX, textRight }: any) {
  return (
    <div style={{
      position: 'absolute', left, top, width, height, boxSizing: 'border-box', background: '#fff',
      border: '1px solid #222', boxShadow: '1px 1px 0 #888', fontFamily: FONT, fontWeight: 700, fontSize,
    }}>
      {rows.map((r: any) => (
        <React.Fragment key={r.label}>
          <div style={{
            position: 'absolute', left: markerX - 4.5, top: r.cy - 6, width: 9, height: 12, borderRadius: '50%',
            background: r.color, border: `1px solid ${r.edge}`, boxSizing: 'border-box',
          }} />
          <div style={{
            position: 'absolute', right: width - textRight, top: r.cy - fontSize * 0.6, lineHeight: `${fontSize * 1.2}px`,
            whiteSpace: 'nowrap', color: '#000',
          }}>{r.label}</div>
        </React.Fragment>
      ))}
    </div>
  );
}

const legendRowsA = [
  { label: 'Classification', color: '#7a35b0', edge: '#4b1d75', cy: 14 },
  { label: 'Reported Log', color: '#ff2a00', edge: '#b01800', cy: 33 },
];
const legendRowsB = [
  { label: 'Classification', color: '#7a35b0', edge: '#4b1d75', cy: 16 },
  { label: 'Reported Log', color: '#ff2a00', edge: '#b01800', cy: 37 },
];

export default function App() {
  const g1: Geo = { W: 990, H: 290, left: 131, right: 986, bottom: 246, titleSize: 20, titleWeight: 'bold', titlePadTop: 4.5, titlePadBottom: 11.5 };
  const g2: Geo = { W: 1049, H: 310, left: 137, right: 1049, bottom: 258, titleSize: 19.5, titleWeight: 'bold', titlePadTop: 30.3, titlePadBottom: 11.3 };
  const g3: Geo = { W: 984, H: 292, left: 137, right: 980, bottom: 257, titleSize: 22, titleWeight: 'bold', titlePadTop: 1.8, titlePadBottom: 13.8 };
  const g4: Geo = { W: 990, H: 284, left: 139, right: 986, bottom: 239, titleSize: 18.5, titleWeight: 'normal', titlePadTop: 26.9, titlePadBottom: 11.9 };

  return (
    <div style={{ position: 'absolute', left: 0, top: 0, width: 984, height: 1189, overflow: 'hidden', background: '#fff' }}>
      <ChartCanvas top={0} W={g1.W} H={g1.H} make={() => classConfig(g1, {
        title: 'Classification (Harold, Nov 12)', xMin: 0, xMax: 121.4, yMin: 0.8, yMax: 2.3, yTicks: classTicksTop,
        baseHour: 12, xPad: 11, xFont: 18, yPad: 5, yFont: 19.5, logWidth: 4.5,
        logF: logFeedingA, logW: logWritingA, clsF: clsFeedingA, clsW: clsWritingA,
      })} />
      <ChartCanvas top={298} W={g2.W} H={g2.H} make={() => wristConfig(g2, {
        xMin: 0, xMax: 129.4, yMin: -2, yMax: 1.5, yTicks: wristTicksTop, baseHour: 12, lineWidth: 1.5,
        xPad: 5, xFont: 18, yPad: 6, yFont: 18, tickWeight: 'bold', axisTitleSize: 18, timeWeight: 'bold',
        timePadBottom: 2.2, gPadTop: 87, blue: wristBlueA, green: wristGreenA, red: wristRedA,
      })} />
      <ChartCanvas top={608} W={g3.W} H={g3.H} make={() => classConfig(g3, {
        title: 'Classification (Harold, Nov 12)', xMin: -4.8, xMax: 124.7, yMin: 0.5, yMax: 2.5, yTicks: classTicksBottom,
        baseHour: 14, xPad: 3, xFont: 21, yPad: 5, yFont: 21.5, logWidth: 5.5,
        logF: logFeedingB, logW: logWritingB, clsF: clsFeedingB, clsW: clsWritingB,
      })} />
      <ChartCanvas top={905} W={g4.W} H={g4.H} make={() => wristConfig(g4, {
        xMin: -4.8, xMax: 124.4, yMin: -4, yMax: 4, yTicks: wristTicksBottom, baseHour: 14, lineWidth: 1.6,
        xPad: 3.8, xFont: 17, yPad: 3, yFont: 16, tickWeight: 'normal', axisTitleSize: 17, timeWeight: 'normal',
        timePadBottom: 0, gPadTop: 101.8, blue: wristBlueB, green: wristGreenB, red: wristRedB,
      })} />
      <Legend left={162} top={92} width={128} height={48} fontSize={14} rows={legendRowsA} markerX={16} textRight={122} />
      <Legend left={815} top={664} width={145} height={50} fontSize={16} rows={legendRowsB} markerX={20} textRight={137} />
    </div>
  );
}
